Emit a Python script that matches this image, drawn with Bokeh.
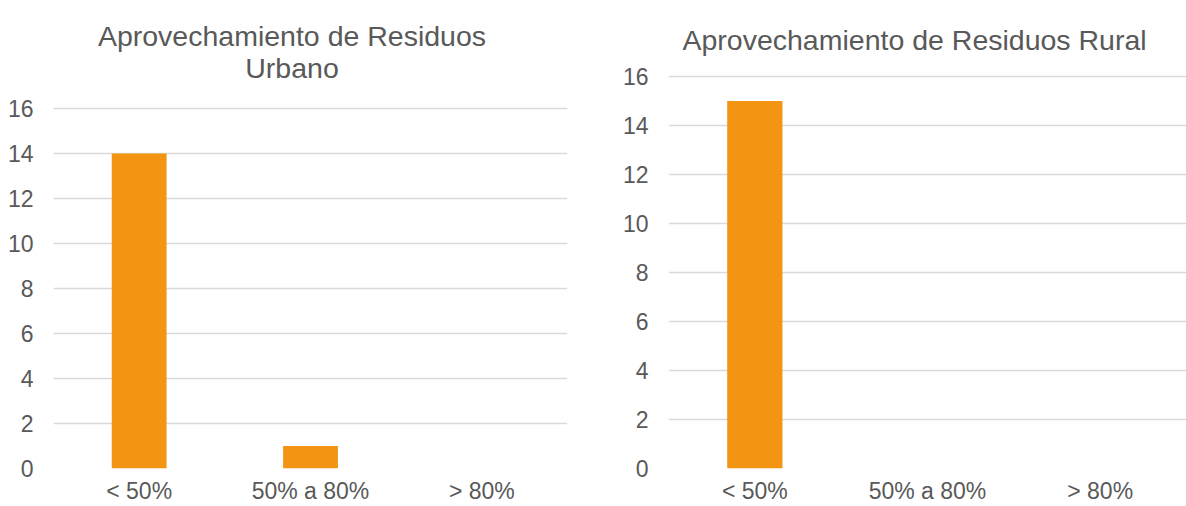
from bokeh.plotting import figure
from bokeh.layouts import row
from bokeh.models import FixedTicker, Label, ColumnDataSource
from bokeh.embed import file_html
from bokeh.resources import INLINE

categories = ["< 50%", "50% a 80%", "> 80%"]
urbano = [14, 1, 0]
rural = [15, 0, 0]
y_ticks = [0, 2, 4, 6, 8, 10, 12, 14, 16]
title_urbano = ["Aprovechamiento de Residuos", "Urbano"]
title_rural = ["Aprovechamiento de Residuos Rural"]

BAR = "#F39512"
TXT = "#595959"
GRID = "#D9D9D9"
FONT = "Liberation Sans"


def make_fig(values, width, y_top, border_left, border_right):
    p = figure(x_range=categories, y_range=(0, y_top), width=width, height=506,
               output_backend="svg", toolbar_location=None, title=None,
               min_border_left=border_left, min_border_right=border_right,
               min_border_top=0, min_border_bottom=38)
    src = ColumnDataSource(dict(cat=categories, val=values))
    p.vbar(x="cat", top="val", width=0.32, source=src, fill_color=BAR, line_color=None)
    p.outline_line_color = None
    p.xgrid.grid_line_color = None
    p.ygrid.grid_line_color = GRID
    p.ygrid.grid_line_width = 1.5
    p.yaxis.ticker = FixedTicker(ticks=y_ticks)
    for ax in (p.xaxis[0], p.yaxis[0]):
        ax.axis_line_color = None
        ax.major_tick_line_color = None
        ax.minor_tick_line_color = None
        ax.major_tick_out = 0
        ax.major_tick_in = 0
        ax.minor_tick_out = 0
        ax.major_label_text_font = FONT
        ax.major_label_text_font_size = "23px"
        ax.major_label_text_color = TXT
    p.yaxis.major_label_standoff = 20
    p.xaxis.major_label_standoff = 9
    return p


def add_title(p, text, x, y):
    p.add_layout(Label(x=x, y=y, text=text, text_align="center", text_baseline="alphabetic",
                       text_font=FONT, text_font_size="28.5px", text_color=TXT))


p1 = make_fig(urbano, 600, 20.8, 53, 33)
p2 = make_fig(rural, 586, 19.1, 68, 0)

add_title(p1, title_urbano[0], 1.392, 19.24)
add_title(p1, title_urbano[1], 1.392, 17.78)
add_title(p2, title_rural[0], 1.425, 17.47)

layout = row(p1, p2)
open("out.html", "w").write(file_html(layout, INLINE))
